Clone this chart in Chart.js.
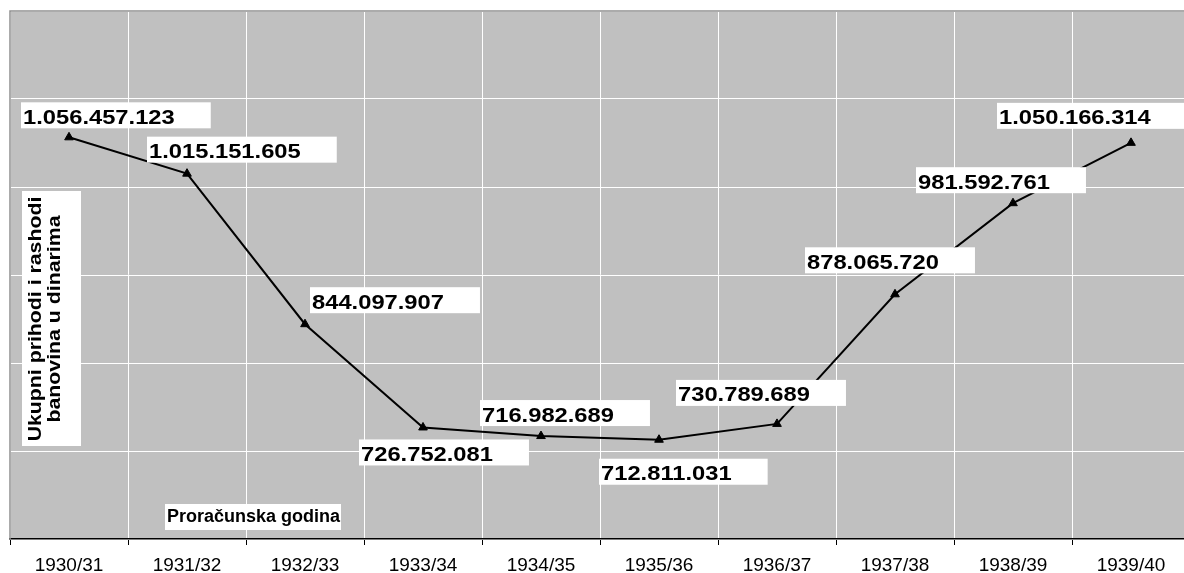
<!DOCTYPE html>
<html>
<head>
<meta charset="utf-8">
<script src="https://cdn.jsdelivr.net/npm/chart.js@4.4.1/dist/chart.umd.min.js"></script>
<style>
  html, body { margin: 0; padding: 0; background: #fff; overflow: hidden; }
  #wrap { width: 1196px; height: 573px; }
</style>
</head>
<body>
<div id="wrap"><canvas id="chart-budget" width="1196" height="573"></canvas></div>
<script>
const godine = ['1930/31', '1931/32', '1932/33', '1933/34', '1934/35', '1935/36', '1936/37', '1937/38', '1938/39', '1939/40']
const iznosi = [1056457123, 1015151605, 844097907, 726752081, 716982689, 712811031, 730789689, 878065720, 981592761, 1050166314]
const yMin = 600000000
const yMax = 1200000000
const yKorak = 100000000

const naslovX = 'Proračunska godina'
const naslovY = ['Ukupni prihodi i rashodi', 'banovina u dinarima']

// pomak okvira natpisa od tacke (lijevo, gore)
const pomaciNatpisa = [[-48, -35], [-40, -37], [5, -37], [-64, 12], [-61, -36], [-60, 19], [-101, -44], [-90, -47], [-97, -36], [-134, -40]]

const formatiraj = v => String(v).replace(/\B(?=(\d{3})+(?!\d))/g, '.')

// tekst u originalu je malo razvucen
const RAZVUCI = 1.13

const pozadina = {
  id: 'pozadina',
  beforeDraw(chart) {
    const { ctx, chartArea: a } = chart
    ctx.save()
    ctx.fillStyle = '#c0c0c0'
    ctx.fillRect(a.left, a.top, a.right - a.left, a.bottom - a.top)
    ctx.restore()
  },
  beforeDatasetsDraw(chart) {
    const { ctx, chartArea: a } = chart
    ctx.save()
    ctx.strokeStyle = '#909090'
    ctx.lineWidth = 1.5
    ctx.beginPath()
    ctx.moveTo(a.left, a.bottom)
    ctx.lineTo(a.left, a.top)
    ctx.lineTo(a.right, a.top)
    ctx.stroke()
    ctx.restore()
  }
}

const natpisi = {
  id: 'natpisi',
  afterDatasetsDraw(chart) {
    const { ctx } = chart
    const tacke = chart.getDatasetMeta(0).data
    ctx.save()
    ctx.font = 'bold 21px Arial, "Liberation Sans", sans-serif'
    ctx.textBaseline = 'alphabetic'
    tacke.forEach((t, i) => {
      const tekst = formatiraj(iznosi[i])
      const [dx, dy] = pomaciNatpisa[i]
      const x = t.x + dx
      const y = t.y + dy
      const w = ctx.measureText(tekst).width * RAZVUCI + 38
      ctx.fillStyle = '#fff'
      ctx.fillRect(x, y, w, 26)
      ctx.fillStyle = '#000'
      ctx.save()
      ctx.translate(x + 2, y + 21.5)
      ctx.scale(RAZVUCI, 1)
      ctx.fillText(tekst, 0, 0)
      ctx.restore()
    })

    // naslov x ose
    ctx.font = 'bold 18px Arial, "Liberation Sans", sans-serif'
    ctx.fillStyle = '#fff'
    ctx.fillRect(165, 504, 176, 26)
    ctx.fillStyle = '#000'
    ctx.fillText(naslovX, 167, 522)

    // naslov y ose
    ctx.fillStyle = '#fff'
    ctx.fillRect(22, 191, 59, 255)
    ctx.fillStyle = '#000'
    ctx.font = 'bold 19px Arial, "Liberation Sans", sans-serif'
    ctx.textAlign = 'center'
    const baze = [41, 60]
    naslovY.forEach((red, i) => {
      ctx.save()
      ctx.translate(baze[i], 319)
      ctx.rotate(-Math.PI / 2)
      ctx.scale(1.12, 1)
      ctx.fillText(red, 0, 0)
      ctx.restore()
    })
    ctx.restore()
  }
}

const ctx = document.getElementById('chart-budget').getContext('2d')

new Chart(ctx, {
  type: 'line',
  data: {
    labels: godine,
    datasets: [
      {
        label: 'Ukupno',
        data: iznosi,
        borderColor: '#000',
        backgroundColor: '#000',
        borderWidth: 2,
        pointStyle: 'triangle',
        pointRadius: 5,
        pointBorderWidth: 1,
        tension: 0
      }
    ]
  },
  options: {
    responsive: false,
    animation: false,
    devicePixelRatio: 1,
    layout: {
      padding: { left: 10, top: 11, right: 3, bottom: 0 }
    },
    plugins: {
      legend: { display: false },
      tooltip: { enabled: false }
    },
    scales: {
      x: {
        offset: true,
        grid: {
          offset: true,
          color: '#fff',
          lineWidth: 1,
          drawTicks: true,
          tickLength: 6,
          tickColor: '#000'
        },
        border: { color: '#000', width: 1.5 },
        ticks: {
          color: '#000',
          padding: 9,
          maxRotation: 0,
          autoSkip: false,
          font: { family: 'Arial, "Liberation Sans", sans-serif', size: 19 }
        },
        afterFit(scale) { scale.height = 34 }
      },
      y: {
        min: yMin,
        max: yMax,
        ticks: { display: false, stepSize: yKorak },
        grid: { color: '#fff', lineWidth: 1, drawTicks: false },
        border: { display: false },
        afterFit(scale) { scale.width = 0 }
      }
    }
  },
  plugins: [pozadina, natpisi]
})
</script>
</body>
</html>
